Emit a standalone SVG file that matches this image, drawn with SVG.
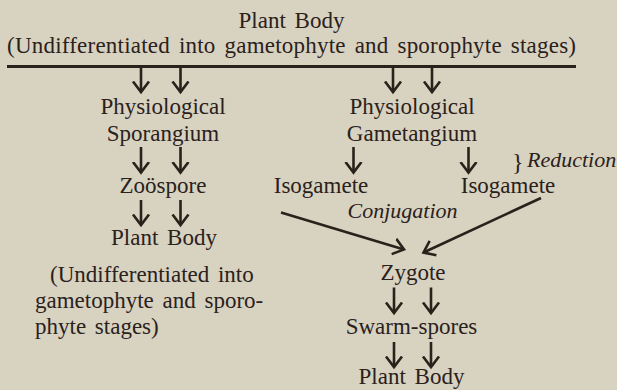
<svg xmlns="http://www.w3.org/2000/svg" width="617" height="390" viewBox="0 0 617 390">
<style>
  text { font-family: "Liberation Serif", "Times New Roman", serif; font-size: 23px; fill: #2a211b; word-spacing: 3px; }
  .c { text-anchor: middle; }
  .i { font-style: italic; font-size: 22px; word-spacing: 0; }
  .conn line { stroke: #2a211b; stroke-width: 2.6; fill: none; }
  .rule { stroke: #2a211b; stroke-width: 3.2; }
</style>
<defs>
  <marker id="ah" viewBox="0 0 20 20" refX="11" refY="10" markerWidth="20" markerHeight="20" orient="auto" markerUnits="userSpaceOnUse">
    <path d="M0.5,2 L11,10 L0.5,18" fill="none" stroke="#2a211b" stroke-width="2.6" stroke-linejoin="miter"/>
  </marker>
</defs>
<rect width="617" height="390" fill="#d8d2c1"/>

<g id="top-plant-body">
  <text class="c" x="291.5" y="27.5">Plant Body</text>
  <text x="7" y="53" textLength="569" lengthAdjust="spacing">(Undifferentiated into gametophyte and sporophyte stages)</text>
  <line class="rule" x1="7" y1="66.5" x2="576" y2="66.5"/>
</g>
<g id="sporangium">
  <text class="c" x="163" y="114">Physiological</text>
  <text class="c" x="163" y="141">Sporangium</text>
</g>
<g id="gametangium">
  <text class="c" x="412" y="114">Physiological</text>
  <text class="c" x="412" y="141">Gametangium</text>
</g>
<g id="reduction">
  <text x="512" y="170" style="font-size:24px">}</text>
  <text class="i" x="527" y="167">Reduction</text>
</g>
<g id="zoospore">
  <text class="c" x="163" y="192.5">Zoöspore</text>
</g>
<g id="isogamete-left">
  <text class="c" x="321" y="192.5">Isogamete</text>
</g>
<g id="isogamete-right">
  <text class="c" x="508" y="192.5">Isogamete</text>
</g>
<g id="conjugation">
  <text class="i" x="402.5" y="218" text-anchor="middle">Conjugation</text>
</g>
<g id="plant-body-left">
  <text class="c" x="164" y="245">Plant Body</text>
  <text x="50" y="281.5">(Undifferentiated into</text>
  <text x="35" y="308">gametophyte and sporo-</text>
  <text x="35" y="334">phyte stages)</text>
</g>
<g id="zygote">
  <text class="c" x="413" y="280">Zygote</text>
</g>
<g id="swarm-spores">
  <text class="c" x="411.5" y="333.5">Swarm-spores</text>
</g>
<g id="plant-body-bottom">
  <text class="c" x="411.5" y="384">Plant Body</text>
</g>

<g id="connectors" class="conn">
  <line x1="141" y1="68" x2="141" y2="92" marker-end="url(#ah)"/>
  <line x1="180.5" y1="68" x2="180.5" y2="92" marker-end="url(#ah)"/>
  <line x1="393" y1="68" x2="393" y2="92" marker-end="url(#ah)"/>
  <line x1="432" y1="68" x2="432" y2="92" marker-end="url(#ah)"/>

  <line x1="141" y1="147" x2="141" y2="172.5" marker-end="url(#ah)"/>
  <line x1="180.5" y1="147" x2="180.5" y2="172.5" marker-end="url(#ah)"/>
  <line x1="353.5" y1="147" x2="353.5" y2="172.5" marker-end="url(#ah)"/>
  <line x1="468.5" y1="147" x2="468.5" y2="172.5" marker-end="url(#ah)"/>

  <line x1="141" y1="200" x2="141" y2="225" marker-end="url(#ah)"/>
  <line x1="180.5" y1="200" x2="180.5" y2="225" marker-end="url(#ah)"/>

  <line x1="281" y1="212.5" x2="404" y2="249.5" marker-end="url(#ah)"/>
  <line x1="541" y1="198" x2="423.5" y2="252.5" marker-end="url(#ah)"/>

  <line x1="394" y1="287.5" x2="394" y2="313" marker-end="url(#ah)"/>
  <line x1="431" y1="287.5" x2="431" y2="313" marker-end="url(#ah)"/>

  <line x1="394" y1="342" x2="394" y2="367" marker-end="url(#ah)"/>
  <line x1="431" y1="342" x2="431" y2="367" marker-end="url(#ah)"/>
</g>
</svg>
